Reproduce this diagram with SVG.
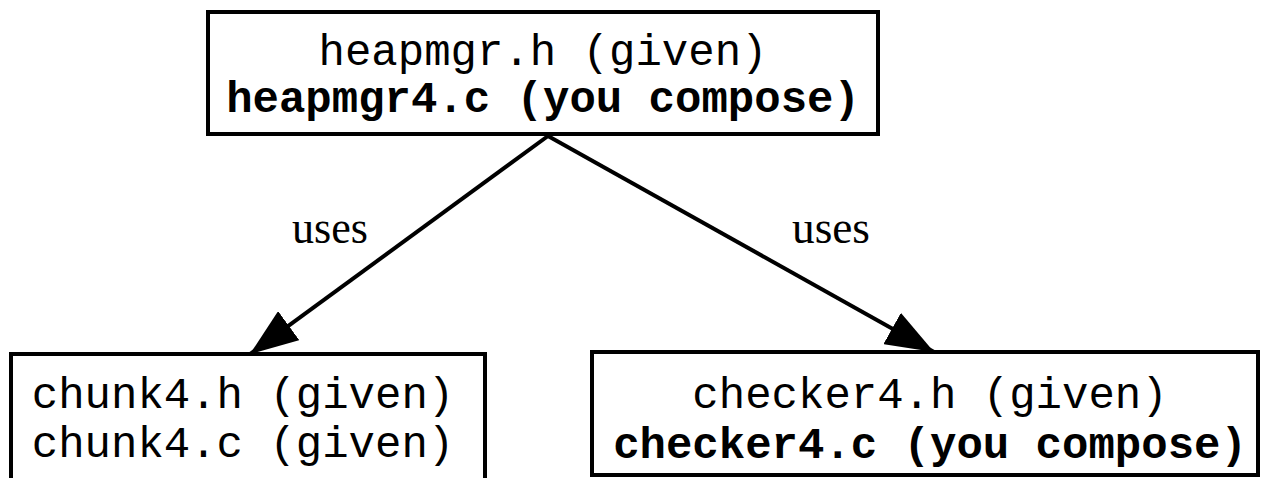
<svg xmlns="http://www.w3.org/2000/svg" width="1262" height="478" viewBox="0 0 1262 478">
  <style>
    .box { fill: #ffffff; stroke: #000000; stroke-width: 4; }
    .mono { font-family: "Liberation Mono", "Courier New", monospace; font-size: 44px; fill: #000000; text-anchor: middle; }
    .bold { font-weight: bold; }
    .label { font-family: "Liberation Serif", "Times New Roman", serif; font-size: 47px; fill: #000000; text-anchor: middle; }
    .edge { stroke: #000000; stroke-width: 4; fill: none; }
  </style>
  <defs>
    <marker id="arrow" viewBox="0 0 48 36" refX="48" refY="18" markerWidth="48" markerHeight="36" markerUnits="userSpaceOnUse" orient="auto">
      <path d="M0,0 L48,18 L0,36 Z" fill="#000000"/>
    </marker>
  </defs>
  <rect width="1262" height="478" fill="#ffffff"/>

  <g id="connectors">
    <line class="edge" x1="548" y1="136" x2="250" y2="354" marker-end="url(#arrow)"/>
    <line class="edge" x1="548" y1="136" x2="934" y2="352" marker-end="url(#arrow)"/>
    <text class="label" x="330" y="243" textLength="76" lengthAdjust="spacingAndGlyphs">uses</text>
    <text class="label" x="831" y="243" textLength="78" lengthAdjust="spacingAndGlyphs">uses</text>
  </g>

  <g id="heapmgr">
    <rect class="box" x="208" y="12" width="670" height="122"/>
    <text class="mono" x="543" y="65">heapmgr.h (given)</text>
    <text class="mono bold" x="543" y="112">heapmgr4.c (you compose)</text>
  </g>

  <g id="chunk">
    <rect class="box" x="11" y="354" width="474" height="140"/>
    <text class="mono" x="243" y="408">chunk4.h (given)</text>
    <text class="mono" x="243" y="457">chunk4.c (given)</text>
  </g>

  <g id="checker">
    <rect class="box" x="592" y="352" width="666" height="123"/>
    <text class="mono" x="930" y="408">checker4.h (given)</text>
    <text class="mono bold" x="930" y="458">checker4.c (you compose)</text>
  </g>
</svg>
